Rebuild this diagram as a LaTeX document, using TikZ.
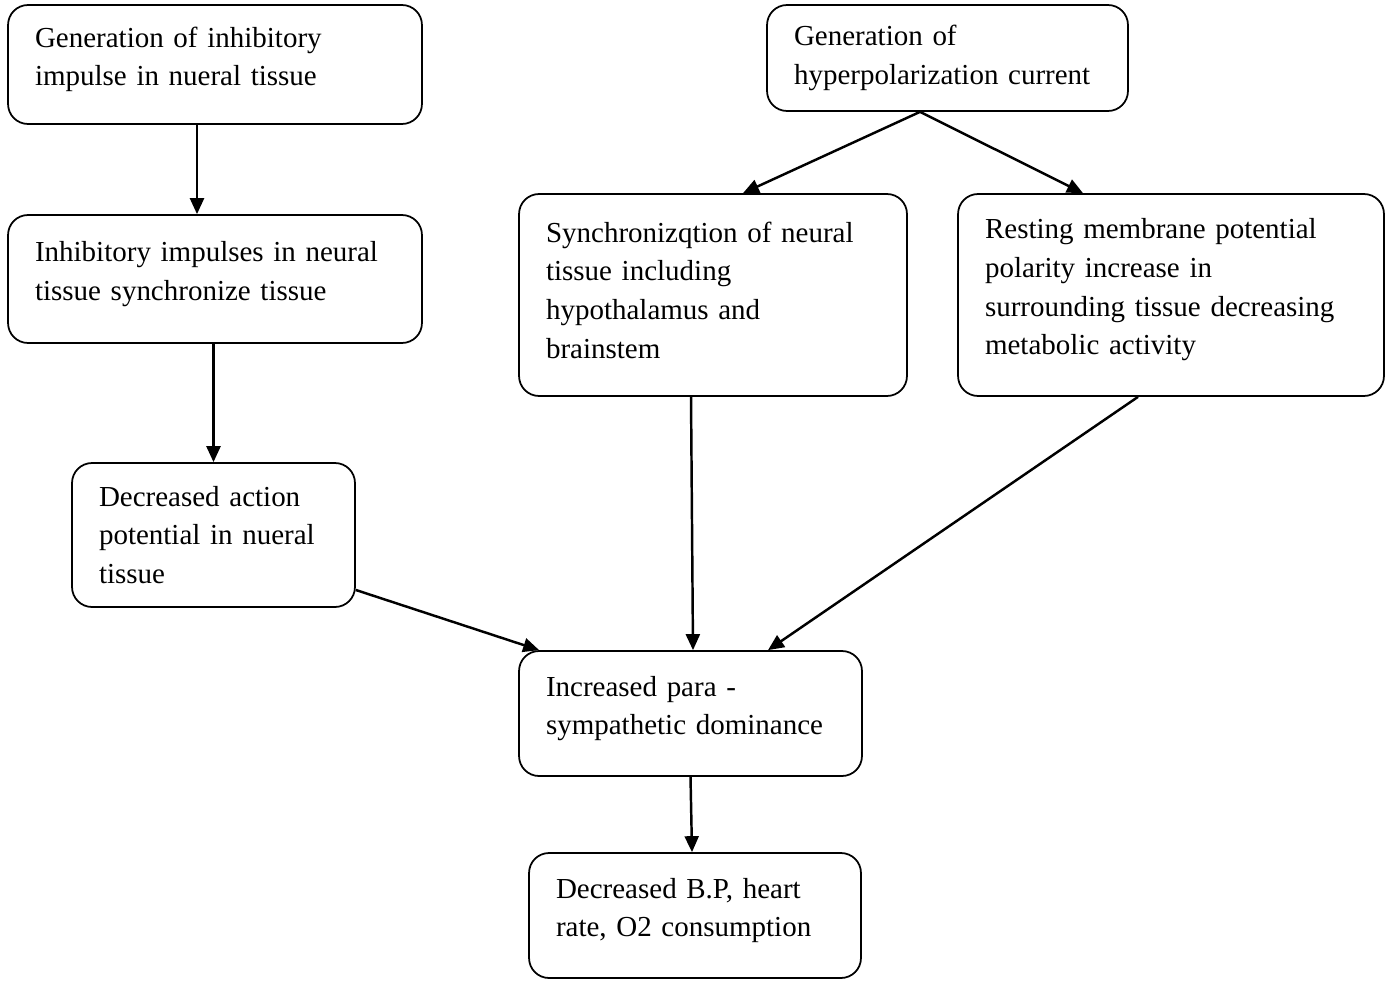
\documentclass[tikz,border=0pt]{standalone}
\usepackage{fontspec}
\setmainfont{Liberation Serif}
\usetikzlibrary{arrows.meta}
\newcommand{\stagegap}[1]{\endgraf\vspace*{#1}}

\begin{document}
\begin{tikzpicture}[x=0.02cm, y=-0.02cm,
  stage/.style={draw, line width=1pt, rounded corners=0.4cm, align=left,
    inner xsep=0.54cm, inner ysep=0pt, font=\fontsize{16.5}{22}\selectfont,
    execute at end node={\stagegap{#1}}},
  stage/.default=0.2cm,
  link/.style={line width=1.4pt, -{Triangle[length=0.32cm, width=0.28cm]}}]
\useasboundingbox (0,0) rectangle (1391,980);

% Left column
\node[stage, text width=7.2cm, minimum height=2.38cm] (genimp) at (215,64.5)
  {Generation of inhibitory\\impulse in nueral tissue};
\node[stage, text width=7.2cm, minimum height=2.56cm] (syncimp) at (215,279)
  {Inhibitory impulses in neural\\tissue synchronize tissue};
\node[stage=0pt, text width=4.58cm, minimum height=2.88cm] (decap) at (213.5,535)
  {Decreased action\\potential in nueral\\tissue};

% Right column
\node[stage=0pt, text width=6.14cm, minimum height=2.12cm] (gencur) at (947.5,58)
  {Generation of\\hyperpolarization current};
\node[stage, text width=6.68cm, minimum height=4.04cm] (syncneur) at (713,295)
  {Synchronizqtion of neural\\tissue including\\hypothalamus and\\brainstem};
\node[stage, text width=7.44cm, minimum height=4.04cm] (resting) at (1171,295)
  {Resting membrane potential\\polarity increase in\\surrounding tissue decreasing\\metabolic activity};

% Bottom
\node[stage, text width=5.78cm, minimum height=2.5cm] (para) at (690.5,713.5)
  {Increased para -\\sympathetic dominance};
\node[stage, text width=5.56cm, minimum height=2.5cm] (bp) at (695,915.5)
  {Decreased B.P, heart\\rate, O2 consumption};

% Arrows
\draw[link] ([xshift=-0.36cm]genimp.south) -- ([xshift=-0.36cm]syncimp.north);
\draw[link] (syncimp.south -| decap.north) -- (decap.north);
\draw[link] ([xshift=-0.55cm]gencur.south) -- ([xshift=0.6cm]syncneur.north);
\draw[link] ([xshift=-0.55cm]gencur.south) -- ([xshift=-1.76cm]resting.north);
\draw[link] ([xshift=-0.44cm]syncneur.south) -- ([xshift=0.05cm]para.north);
\draw[link] ([xshift=-0.66cm]resting.south) -- ([xshift=1.55cm]para.north);
\draw[link] ([yshift=-1.1cm]decap.east) -- ([xshift=0.42cm]para.north west);
\draw[link] (para.south) -- ([xshift=-0.06cm]bp.north);
\end{tikzpicture}
\end{document}
